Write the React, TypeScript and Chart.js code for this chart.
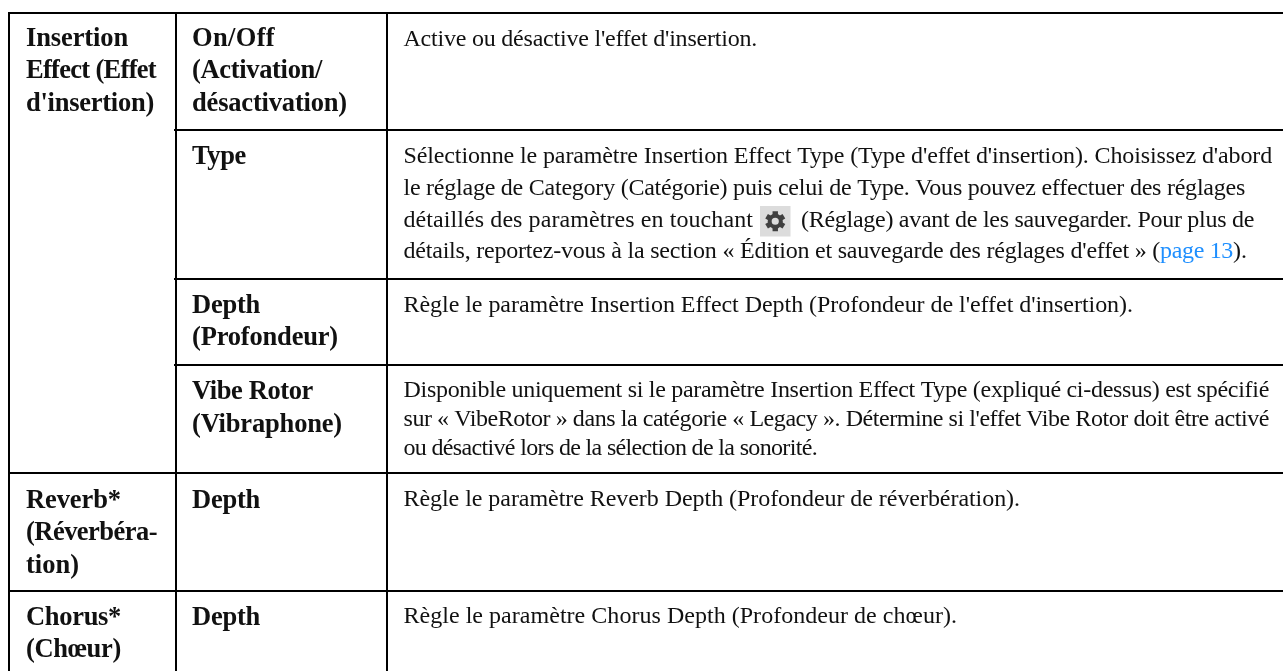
import React, { useEffect, useRef } from "react";
import { Chart, registerables } from "chart.js";

Chart.register(...registerables);

const effectLabels = ["Insertion", "Effect (Effet", "d'insertion)"];
const reverbLabels = ["Reverb*", "(Réverbéra-", "tion)"];
const chorusLabels = ["Chorus*", "(Chœur)"];
const onOffLabels = ["On/Off", "(Activation/", "désactivation)"];
const typeLabels = ["Type"];
const depthLabels = ["Depth", "(Profondeur)"];
const rotorLabels = ["Vibe Rotor", "(Vibraphone)"];
const plainDepth = ["Depth"];

const onOffText = ["Active ou désactive l'effet d'insertion."];
const typeText = [
  "Sélectionne le paramètre Insertion Effect Type (Type d'effet d'insertion). Choisissez d'abord",
  "le réglage de Category (Catégorie) puis celui de Type. Vous pouvez effectuer des réglages",
];
const typeBeforeGear = "détaillés des paramètres en touchant";
const typeAfterGear = "(Réglage) avant de les sauvegarder. Pour plus de";
const typeLastLine = "détails, reportez-vous à la section « Édition et sauvegarde des réglages d'effet » (";
const typeLink = "page 13";
const typeEnd = ").";
const depthText = ["Règle le paramètre Insertion Effect Depth (Profondeur de l'effet d'insertion)."];
const rotorText = [
  "Disponible uniquement si le paramètre Insertion Effect Type (expliqué ci-dessus) est spécifié",
  "sur « VibeRotor » dans la catégorie « Legacy ». Détermine si l'effet Vibe Rotor doit être activé",
  "ou désactivé lors de la sélection de la sonorité.",
];
const reverbText = ["Règle le paramètre Reverb Depth (Profondeur de réverbération)."];
const chorusText = ["Règle le paramètre Chorus Depth (Profondeur de chœur)."];

// Layout of the table, in page pixels (the chart's axes run over the page).
const PAGE_W = 1283;
const PAGE_H = 671;
const COL = [9, 176, 387];
const ROW = [13, 130, 279, 365, 473, 591];
const TEXT_X = [26, 192, 403.5];
const BOLD = 'bold 26.5px "Liberation Serif"';
const BODY = '24px "Liberation Serif"';
const INK = "#111111";
const LINK = "#1e8fff";

type Seg = { x: number; y: number }[];
const rules: Seg[] = [
  [{ x: COL[0] - 1, y: ROW[0] }, { x: PAGE_W, y: ROW[0] }],
  [{ x: COL[1] - 2, y: ROW[1] }, { x: PAGE_W, y: ROW[1] }],
  [{ x: COL[1] - 2, y: ROW[2] }, { x: PAGE_W, y: ROW[2] }],
  [{ x: COL[1] - 2, y: ROW[3] }, { x: PAGE_W, y: ROW[3] }],
  [{ x: COL[0], y: ROW[4] }, { x: PAGE_W, y: ROW[4] }],
  [{ x: COL[0], y: ROW[5] }, { x: PAGE_W, y: ROW[5] }],
  [{ x: COL[0], y: ROW[0] }, { x: COL[0], y: PAGE_H }],
  [{ x: COL[1], y: ROW[0] }, { x: COL[1], y: PAGE_H }],
  [{ x: COL[2], y: ROW[0] }, { x: COL[2], y: PAGE_H }],
];

// [lines, start x, baselines, right ends, font]
const blocks: [string[], number, number[], number[], string][] = [
  [effectLabels, TEXT_X[0], [45.5, 78, 110.5], [128, 156, 154], BOLD],
  [onOffLabels, TEXT_X[1], [45.5, 78, 110.5], [275, 322, 347], BOLD],
  [typeLabels, TEXT_X[1], [164], [246], BOLD],
  [depthLabels, TEXT_X[1], [312.5, 345], [260, 338], BOLD],
  [rotorLabels, TEXT_X[1], [399, 431.5], [313, 342], BOLD],
  [reverbLabels, TEXT_X[0], [508, 540, 573], [121, 157, 79], BOLD],
  [plainDepth, TEXT_X[1], [508], [260], BOLD],
  [chorusLabels, TEXT_X[0], [625, 657], [121, 121], BOLD],
  [plainDepth, TEXT_X[1], [625], [260], BOLD],
  [onOffText, TEXT_X[2], [46], [757], BODY],
  [typeText, TEXT_X[2], [163, 194.5], [1272, 1245], BODY],
  [depthText, TEXT_X[2], [312], [1133], BODY],
  [rotorText, TEXT_X[2], [397, 426, 455], [1269, 1269, 817], BODY],
  [reverbText, TEXT_X[2], [506], [1020], BODY],
  [chorusText, TEXT_X[2], [623], [957], BODY],
];

const fit = (ctx: any, text: string, x: number, y: number, end: number, color = INK) => {
  ctx.letterSpacing = "0px";
  const w = ctx.measureText(text).width;
  const gap = (end - x - w) / Math.max(1, text.length);
  ctx.letterSpacing = `${gap.toFixed(3)}px`;
  ctx.fillStyle = color;
  ctx.fillText(text, x, y);
  ctx.letterSpacing = "0px";
};

const tablePlugin = {
  id: "tableText",
  afterDatasetsDraw(chart: any) {
    const { ctx, scales } = chart;
    const sx = (v: number) => scales.x.getPixelForValue(v);
    const sy = (v: number) => scales.y.getPixelForValue(v);
    ctx.save();
    ctx.textBaseline = "alphabetic";
    blocks.forEach(([lines, x, bases, ends, font]) => {
      ctx.font = font;
      lines.forEach((t, i) => fit(ctx, t, sx(x), sy(bases[i]), sx(ends[i])));
    });

    // Third line of the Type cell, with the gear icon
    ctx.font = BODY;
    const y3 = sy(226.5);
    const x0 = sx(TEXT_X[2]);
    fit(ctx, typeBeforeGear, x0, y3, sx(753));
    const gx = sx(760);
    const gy = sy(206);
    const size = 30.5;
    ctx.fillStyle = "#dcdcdc";
    ctx.fillRect(gx, gy, size, size);
    const cx = gx + size / 2;
    const cy = gy + size / 2;
    ctx.fillStyle = "#404040";
    for (let i = 0; i < 6; i++) {
      ctx.save();
      ctx.translate(cx, cy);
      ctx.rotate((i * Math.PI) / 3);
      ctx.fillRect(-2.7, -10, 5.4, 5);
      ctx.restore();
    }
    ctx.beginPath();
    ctx.arc(cx, cy, 7.6, 0, Math.PI * 2);
    ctx.arc(cx, cy, 3.6, 0, Math.PI * 2, true);
    ctx.fill();
    fit(ctx, typeAfterGear, sx(801), y3, sx(1254));

    // Last line of the Type cell, with its link
    const y4 = sy(258);
    fit(ctx, typeLastLine, x0, y4, sx(1160));
    fit(ctx, typeLink, sx(1160), y4, sx(1233), LINK);
    fit(ctx, typeEnd, sx(1233), y4, sx(1247));
    ctx.restore();
  },
};

export default function App() {
  const ref = useRef<HTMLCanvasElement>(null);
  useEffect(() => {
    if (!ref.current) return;
    const chart = new Chart(ref.current, {
      type: "scatter",
      data: {
        datasets: rules.map((data) => ({
          data,
          showLine: true,
          borderColor: "#000000",
          borderWidth: 2,
          pointRadius: 0,
          tension: 0,
        })),
      },
      options: {
        animation: false,
        responsive: false,
        layout: { padding: 0 },
        plugins: { legend: { display: false }, tooltip: { enabled: false }, title: { display: false } },
        scales: {
          x: { type: "linear", min: 0, max: PAGE_W, display: false },
          y: { type: "linear", min: 0, max: PAGE_H, reverse: true, display: false },
        },
      },
      plugins: [tablePlugin],
    } as any);
    return () => chart.destroy();
  }, []);
  return (
    <div style={{ position: "fixed", left: 0, top: 0, width: PAGE_W, height: PAGE_H, background: "#fff" }}>
      <canvas ref={ref} width={PAGE_W} height={PAGE_H} style={{ display: "block" }} />
    </div>
  );
}
